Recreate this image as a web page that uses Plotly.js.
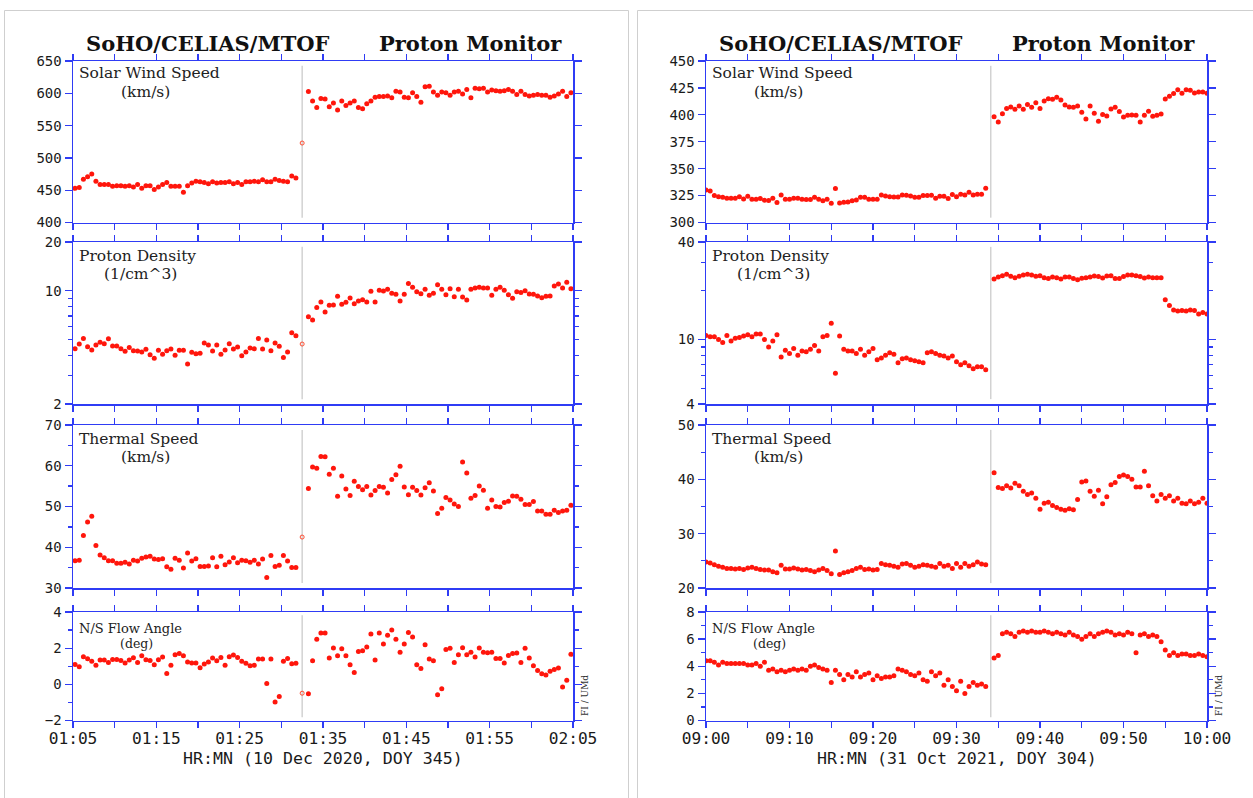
<!DOCTYPE html>
<html><head><meta charset="utf-8">
<script src="https://cdn.plot.ly/plotly-3.0.1.min.js"></script>
<style>html,body{margin:0;padding:0;background:#fff}#chart{width:1253px;height:798px}</style>
</head><body><div id="chart"></div>
<script>
// ================= DATA =================
// Left panel: 10 Dec 2020, DOY 345 (30 s cadence)
const L_DATE = '2020-12-10';
const L_PRE_START = '01:05:15';
const L_POST_START = '01:33:15';
const L_N_PRE = 54;
const L_GAP_LINE = '01:32:30';
const L_GAP_TIME = '01:32:30';
const L_SPEED = [453,454,467,471,475,464,459,459,459,456,457,457,456,457,455,459,453,457,457,451,455,459,462,456,456,456,447,457,461,464,463,462,460,463,461,462,462,463,460,462,459,463,463,464,463,466,463,463,467,465,464,463,472,469,
  602.6,588,578,592,591,579,585,574,588,581,585,588,578,576,584,588,594,595,595,596,593,603,602,594,593,601,595,586,610,611,602,597,602,601,597,602,603,599,606,593,608,607,608,602,605,604,603,604,606,603,598,603,598,596,597,598,597,597,594,596,599,603,595,601];
const L_DENSITY = [4.39,4.69,5.08,4.52,4.31,4.62,4.81,4.71,5.06,4.56,4.56,4.39,4.23,4.46,4.27,4.25,4.19,4.35,4.03,3.83,4.29,4.05,4.27,4.37,4.00,4.29,4.29,3.53,4.17,4.09,4.11,4.76,4.62,4.25,4.62,4.05,4.31,4.71,4.37,4.50,3.97,4.19,4.44,4.39,5.08,4.37,4.97,4.27,4.76,4.54,3.88,4.19,5.51,5.28,
  6.92,6.61,7.87,8.53,7.40,8.13,8.17,9.24,8.25,8.49,9.02,8.32,8.64,8.81,8.53,9.92,8.53,10.06,9.97,10.2,9.64,9.51,8.64,9.51,11.1,10.5,9.86,9.59,10.2,9.37,9.64,10.9,10.2,9.46,10.3,9.20,10.2,9.16,8.77,10.2,10.4,10.5,10.4,10.4,9.37,10.2,10.5,10.06,9.46,8.98,9.86,9.77,10.0,9.55,9.51,9.29,9.06,9.24,9.29,10.7,11.0,10.4,11.3,10.3];
const L_THERMAL = [36.7,36.8,42.9,46.2,47.6,40.4,38.1,37.4,36.7,36.7,36.1,36.1,36.3,35.9,36.8,36.6,37.3,37.6,37.8,37.1,37.0,37.2,35.2,34.6,37.3,36.8,34.9,38.6,36.6,37.2,35.3,35.3,35.4,37.4,35.2,37.8,35.7,36.4,37.4,36.2,36.8,36.7,36.3,36.8,35.9,37.1,32.6,38.0,35.3,35.6,38.0,36.6,35.0,35.0,
  54.4,59.7,59.4,62.3,62.2,57.9,59.4,52.5,57.5,54.3,52.7,56.2,54.9,54.1,54.9,52.8,53.9,54.9,54.7,53.3,56.6,57.8,59.9,54.8,52.9,54.7,53.9,52.8,54.6,55.8,53.8,48.3,49.6,52.2,51.6,50.6,50.0,60.9,58.2,52.0,52.7,55.0,54.0,49.6,51.6,50.0,49.9,51.0,51.3,52.6,52.5,51.8,50.5,50.5,51.2,48.9,48.9,48.1,48.1,49.1,48.5,48.9,49.1,50.3];
const L_FLOW = [1.10,0.97,1.53,1.42,1.27,1.05,1.34,1.34,1.21,1.38,1.38,1.32,1.18,1.34,1.47,1.21,1.58,1.36,1.32,1.08,1.36,1.51,0.60,1.05,1.64,1.71,1.58,1.23,1.18,1.18,0.92,1.12,1.23,1.45,1.30,1.49,1.05,1.53,1.62,1.49,1.27,1.16,1.03,1.06,1.40,1.40,0.05,1.40,-0.98,-0.67,1.27,1.43,1.14,1.16,
  -0.52,1.30,2.50,2.84,2.84,1.45,2.01,1.58,1.97,1.58,1.08,0.66,1.82,1.86,2.06,2.78,1.34,2.84,2.23,2.71,3.0,2.49,1.78,2.23,2.87,2.62,1.08,0.88,2.19,1.40,1.30,-0.58,-0.25,1.93,1.99,1.21,1.64,2.02,1.64,1.78,1.51,2.01,1.77,1.75,1.77,1.43,1.43,1.18,1.60,1.71,1.73,1.21,1.99,1.45,1.03,0.77,0.58,0.51,0.73,0.82,0.90,-0.15,0.23,1.66];
// single transition sample (speed, density, thermal, flow)
const L_GAP_VALUES = [523, 4.69, 42.5, -0.49];

// Right panel: 31 Oct 2021, DOY 304 (30 s cadence)
const R_DATE = '2021-10-31';
const R_PRE_START = '09:00:00';
const R_POST_START = '09:34:30';
const R_N_PRE = 68;
const R_GAP_LINE = '09:34:06';
const R_SPEED = [330.3,329.3,325.0,324.0,323.4,322.5,322.5,322.5,324.0,321.9,324.4,321.6,321.6,322.2,320.7,320.4,322.5,318.5,325.6,321.6,321.6,322.5,322.5,321.6,321.3,321.3,323.4,321.6,320.1,321.6,317.9,331.5,318.2,318.8,319.1,320.1,321.0,323.4,323.4,321.6,321.6,321.6,325.6,324.7,324.0,323.7,323.7,325.6,325.3,324.7,323.4,323.4,325.0,325.0,325.3,322.5,324.4,324.4,322.2,326.1,324.0,326.2,325.6,328.1,325.6,326.2,326.2,331.8,
  398.3,393.4,401.1,405.8,407.3,405.1,408.2,405.1,409.5,407.0,411.3,405.8,412.9,415.0,414.4,416.3,413.8,409.2,407.3,407.0,408.2,402.4,396.2,408.2,401.4,394.0,400.2,399.0,405.4,407.0,403.0,398.0,399.6,399.9,399.6,393.4,399.6,403.3,398.6,399.6,400.8,414.7,417.2,419.7,423.4,420.0,423.4,422.8,420.3,421.2,421.2,420.0];
const R_DENSITY = [10.6,10.4,10.4,10.0,9.6,10.6,9.8,10.2,10.3,10.5,10.7,10.4,10.8,10.8,10.0,9.0,9.8,10.7,7.8,8.6,8.2,8.8,8.0,8.5,8.4,8.7,9.2,8.5,10.4,10.6,12.6,6.2,10.5,8.7,8.5,8.5,8.2,8.7,8.0,8.4,8.8,7.5,7.7,8.0,8.3,8.1,7.2,7.6,7.7,7.5,7.4,7.3,7.2,8.3,8.4,8.2,8.0,7.9,7.7,7.9,7.3,7.0,7.2,6.9,6.6,6.8,6.8,6.5,
  23.6,24.3,24.8,25.3,24.6,24.1,24.6,25.0,25.3,25.0,24.6,24.8,24.1,23.8,24.3,24.1,23.6,24.3,24.3,23.8,23.4,23.9,24.1,24.3,24.7,24.5,24.0,24.7,24.8,23.8,23.8,24.5,25.0,25.0,24.8,24.5,24.0,24.3,24.1,24.1,24.1,17.6,16.2,15.2,15.0,15.1,15.0,15.2,15.1,14.4,14.7,14.4];
const R_THERMAL = [24.8,24.6,24.3,24.0,23.8,23.6,23.6,23.5,23.6,23.4,23.7,23.8,23.6,23.4,23.3,23.3,23.0,22.8,24.2,23.5,23.5,23.7,23.5,23.3,23.4,23.2,23.0,23.3,23.6,23.2,22.6,26.8,22.5,22.8,23.0,23.2,23.6,23.8,23.4,23.5,23.3,23.4,24.5,24.3,24.2,24.0,23.8,24.4,24.5,24.2,23.8,24.0,24.3,24.2,24.0,23.8,24.5,24.0,24.2,23.6,24.5,23.8,24.5,24.0,24.3,24.8,24.4,24.3,
  41.2,38.5,38.3,38.8,38.4,39.3,38.8,37.8,37.2,37.5,36.5,34.5,35.6,35.8,35.2,34.8,34.5,34.3,34.6,34.4,36.3,39.5,39.7,37.8,36.9,38.0,35.5,36.8,39.0,39.4,40.5,40.8,40.5,40.0,38.6,38.6,41.5,38.8,37.0,36.0,37.2,36.5,37.0,36.0,36.5,35.6,35.5,36.0,35.5,35.8,36.5,35.6];
const R_FLOW = [4.4,4.4,4.3,4.1,4.3,4.2,4.2,4.2,4.2,4.2,4.1,4.1,4.2,4.0,4.3,3.7,3.8,3.6,3.7,3.6,3.7,3.8,3.7,3.8,3.7,4.0,4.1,3.9,3.8,3.7,2.8,3.7,3.4,3.0,3.4,3.2,3.6,3.2,3.4,3.5,3.0,3.3,3.1,3.2,3.2,3.3,3.8,3.7,3.6,3.4,3.3,3.5,3.0,2.9,3.6,3.3,3.5,2.6,3.0,2.5,2.2,2.9,2.0,2.5,2.8,2.6,2.7,2.5,
  4.6,4.8,6.4,6.5,6.4,6.2,6.5,6.6,6.5,6.6,6.5,6.5,6.6,6.5,6.4,6.5,6.4,6.3,6.5,6.3,6.2,6.0,6.2,6.4,6.2,6.4,6.5,6.6,6.5,6.3,6.4,6.3,6.5,6.4,5.0,6.3,6.4,6.2,6.3,6.2,5.8,5.2,4.8,5.0,4.8,4.9,4.9,4.8,4.8,4.9,4.8,4.7];

// Labels
const ROW_NAMES = ['Solar Wind Speed', 'Proton Density', 'Thermal Speed', 'N/S Flow Angle'];
const ROW_UNITS = ['(km/s)', '(1/cm^3)', '(km/s)', '(deg)'];
const L_XTITLE = 'HR:MN (10 Dec 2020, DOY 345)';
const R_XTITLE = 'HR:MN (31 Oct 2021, DOY 304)';
const L_XRANGE = ['01:05', '02:05'];
const R_XRANGE = ['09:00', '10:00'];
const L_Y_TICKS = [[400,450,500,550,600,650],[2,10,20],[30,40,50,60,70],[-2,0,2,4]];
const L_Y_MINOR = [[],[3,4,5,6,7,8,9],[35,45,55,65],[-1,1,3]];
const L_Y_RANGE = [[400,650],[2,20],[30,70],[-2,4]];
const R_Y_TICKS = [[300,325,350,375,400,425,450],[4,10,40],[20,30,40,50],[0,2,4,6,8]];
const R_Y_MINOR = [[],[5,6,7,8,9,20,30],[25,35,45],[1,3,5,7]];
const R_Y_RANGE = [[300,450],[4,40],[20,50],[0,8]];

// ================= BUILD =================
const W = 1253, H = 798;
const BLUE = '#2f3cf5';
const RED = 'rgb(255,22,12)';
const px = p => p / W, py = p => 1 - p / H;
const ROW_TOP = [61, 242, 425, 612], ROW_BOT = [222.5, 404, 588, 720.5];
const PANEL_L = [73, 706], PANEL_R = [573, 1207];

function toSec(s){const a=s.split(':').map(Number);return a[0]*3600+a[1]*60+(a[2]||0);}
function pad(n){return String(n).padStart(2,'0');}
function stamp(date, sec){const h=Math.floor(sec/3600),m=Math.floor((sec%3600)/60),s=Math.round(sec%60);return date+' '+pad(h)+':'+pad(m)+':'+pad(s);}
function times(date, preStart, postStart, nPre, n){
  const out=[]; const a=toSec(preStart), b=toSec(postStart);
  for(let i=0;i<n;i++){ out.push(i<nPre ? stamp(date,a+30*i) : stamp(date,b+30*(i-nPre))); }
  return out;
}

const panels = [
  {date:L_DATE, t:times(L_DATE,L_PRE_START,L_POST_START,L_N_PRE,L_SPEED.length), series:[L_SPEED,L_DENSITY,L_THERMAL,L_FLOW],
   gapLine:L_GAP_LINE, gapTime:L_GAP_TIME, gapVals:L_GAP_VALUES, xr:L_XRANGE, ticks:L_Y_TICKS, minor:L_Y_MINOR, yr:L_Y_RANGE, xtitle:L_XTITLE},
  {date:R_DATE, t:times(R_DATE,R_PRE_START,R_POST_START,R_N_PRE,R_SPEED.length), series:[R_SPEED,R_DENSITY,R_THERMAL,R_FLOW],
   gapLine:R_GAP_LINE, gapTime:null, gapVals:null, xr:R_XRANGE, ticks:R_Y_TICKS, minor:R_Y_MINOR, yr:R_Y_RANGE, xtitle:R_XTITLE}
];

const data = [], layout = {
  width:W, height:H, margin:{l:0,r:0,t:0,b:0}, autosize:false, showlegend:false,
  paper_bgcolor:'#fff', plot_bgcolor:'#fff', shapes:[], annotations:[]
};
const monoTick = {family:'DejaVu Sans Mono, monospace', size:14, color:'#1a1a1a'};
const xTickFont = {family:'DejaVu Sans Mono, monospace', size:16.2, color:'#1a1a1a'};
const serif = 'DejaVu Serif, serif';

// panel boxes
layout.shapes.push({type:'rect', xref:'paper', yref:'paper', x0:px(4.5), x1:px(628.5), y0:-0.02, y1:py(10.5), line:{color:'#cfcfcf', width:1}});
layout.shapes.push({type:'rect', xref:'paper', yref:'paper', x0:px(637.5), x1:1.02, y0:-0.02, y1:py(10.5), line:{color:'#cfcfcf', width:1}});

const NAME_Y = [73, 256, 439, 628], UNIT_Y = [92, 274, 457, 643];
const UNIT_DX = [46, 29, 46, 45];

panels.forEach((P, p) => {
  const cx = [PANEL_L[p], PANEL_R[p]];
  for (let r = 0; r < 4; r++) {
    const k = p*4 + r + 1;
    const xa = 'xaxis' + (k===1?'':k), ya = 'yaxis' + (k===1?'':k);
    const xs = 'x' + (k===1?'':k), ys = 'y' + (k===1?'':k);
    const isLog = r === 1;
    layout[xa] = {
      domain:[px(cx[0]), px(cx[1])], anchor:ys, type:'date',
      range:[P.date+' '+P.xr[0], P.date+' '+P.xr[1]],
      tickmode:'linear', tick0:P.date+' '+P.xr[0], dtick:600000, tickformat:'%H:%M',
      ticks:'outside', ticklen:6, tickwidth:1.3, tickcolor:BLUE, ticklabelstandoff:-3,
      minor:{tickmode:'linear', tick0:P.date+' '+P.xr[0], dtick:300000, ticks:'outside', ticklen:6, tickwidth:1.3, tickcolor:BLUE, showgrid:false},
      showline:true, linecolor:BLUE, linewidth:1.5, mirror:'ticks',
      showgrid:false, zeroline:false, showticklabels:r===3, tickfont:xTickFont, fixedrange:true
    };
    const yr = isLog ? [Math.log10(P.yr[r][0]), Math.log10(P.yr[r][1])] : P.yr[r];
    layout[ya] = {
      domain:[py(ROW_BOT[r]), py(ROW_TOP[r])], anchor:xs, type:isLog?'log':'linear', range:yr,
      tickmode:'array', tickvals:P.ticks[r], ticktext:P.ticks[r].map(v=>String(v).replace('-','\u2212')),
      ticks:'outside', ticklen:7, tickwidth:1.3, tickcolor:BLUE,
      minor:{tickmode:'array', tickvals:P.minor[r], ticks:'outside', ticklen:4, tickwidth:1.3, tickcolor:BLUE, showgrid:false},
      showline:true, linecolor:BLUE, linewidth:1.5, mirror:'ticks',
      showgrid:false, zeroline:false, tickfont:monoTick, fixedrange:true
    };
    data.push({type:'scatter', mode:'markers', x:P.t, y:P.series[r], xaxis:xs, yaxis:ys,
      marker:{size:5, color:RED}, hoverinfo:'skip', cliponaxis:true});
    if (P.gapTime) {
      data.push({type:'scatter', mode:'markers', x:[P.date+' '+P.gapTime], y:[P.gapVals[r]], xaxis:xs, yaxis:ys,
        marker:{size:4, color:'rgba(255,60,30,0.9)', symbol:'circle-open', line:{width:1, color:'rgba(255,60,30,0.9)'}}, hoverinfo:'skip'});
    }
    layout.shapes.push({type:'line', xref:xs, yref:ys+' domain', x0:P.date+' '+P.gapLine, x1:P.date+' '+P.gapLine,
      y0:0.03, y1:0.97, line:{color:'#d2d2d2', width:1.5}, layer:'below'});
    // row labels
    const nameSize = r===3 ? 13 : 15.5, unitSize = r===3 ? 12.5 : 15.5;
    layout.annotations.push({xref:'paper', yref:'paper', x:px(cx[0]+4), y:py(NAME_Y[r]), xanchor:'left', yanchor:'middle',
      text:ROW_NAMES[r], showarrow:false, font:{family:serif, size:nameSize, color:'#222'}});
    layout.annotations.push({xref:'paper', yref:'paper', x:px(cx[0]+UNIT_DX[r]), y:py(UNIT_Y[r]), xanchor:'left', yanchor:'middle',
      text:ROW_UNITS[r], showarrow:false, font:{family:serif, size:unitSize, color:'#222'}});
  }
  // titles
  layout.annotations.push({xref:'paper', yref:'paper', x:px(cx[0]+134.5), y:py(43), xanchor:'center', yanchor:'middle',
    text:'<b>SoHO/CELIAS/MTOF</b>', showarrow:false, font:{family:serif, size:21, color:'#111'}});
  layout.annotations.push({xref:'paper', yref:'paper', x:px(cx[0]+397), y:py(43), xanchor:'center', yanchor:'middle',
    text:'<b>Proton Monitor</b>', showarrow:false, font:{family:serif, size:21, color:'#111'}});
  // x title
  layout.annotations.push({xref:'paper', yref:'paper', x:px((cx[0]+cx[1])/2), y:py(758), xanchor:'center', yanchor:'middle',
    text:P.xtitle, showarrow:false, font:{family:'DejaVu Sans Mono, monospace', size:16.6, color:'#1a1a1a'}});
  // credit
  layout.annotations.push({xref:'paper', yref:'paper', x:px(cx[1]+12), y:py(696), xanchor:'center', yanchor:'middle',
    text:'FI / UMd', textangle:-90, showarrow:false, font:{family:serif, size:9, color:'#333'}});
});

Plotly.newPlot('chart', data, layout, {displayModeBar:false, staticPlot:true});
</script></body></html>
